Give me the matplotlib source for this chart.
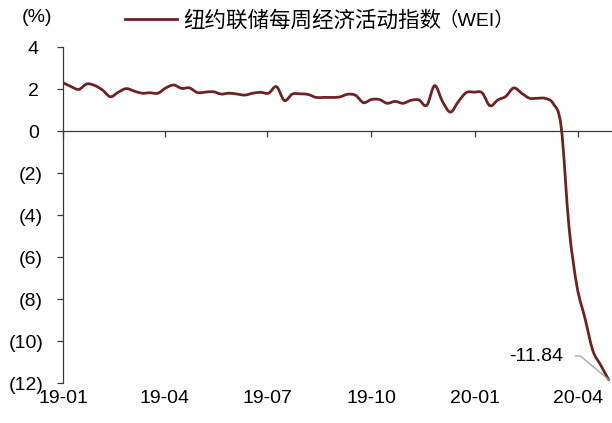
import numpy as np
import pandas as pd
import matplotlib
matplotlib.use("Agg")
import matplotlib.pyplot as plt
import matplotlib.dates as mdates
from matplotlib.path import Path
from matplotlib.patches import PathPatch
from matplotlib.lines import Line2D
from matplotlib.ticker import FixedLocator, FuncFormatter

plt.rcParams['font.family'] = ['Liberation Sans', 'Noto Sans CJK SC', 'DejaVu Sans']
plt.rcParams['font.size'] = 14

# Weekly Economic Index, weekly observations (week ending Saturday)
dates = pd.date_range('2019-01-05', periods=70, freq='7D')
wei = [
    2.30, 2.12, 1.98, 2.24, 2.17, 1.95, 1.63, 1.85, 2.02, 1.90,
    1.80, 1.82, 1.80, 2.05, 2.19, 2.03, 2.05, 1.83, 1.85, 1.87,
    1.76, 1.80, 1.76, 1.71, 1.80, 1.84, 1.80, 2.11, 1.45, 1.76,
    1.77, 1.74, 1.60, 1.60, 1.60, 1.62, 1.75, 1.70, 1.35, 1.50,
    1.50, 1.32, 1.41, 1.32, 1.46, 1.48, 1.22, 2.16, 1.40, 0.90,
    1.40, 1.83, 1.85, 1.82, 1.20, 1.48, 1.65, 2.05, 1.80, 1.56,
    1.56, 1.55, 1.30, 0.20, -4.60, -7.40, -8.90, -10.45, -11.15, -11.84,
]
series_name = '纽约联储每周经济活动指数'
series_code = '（WEI）'
last_label = '-11.84'

xtick_dates = pd.to_datetime(['2019-01-05', '2019-04-05', '2019-07-05',
                              '2019-10-05', '2020-01-05', '2020-04-05'])
xtick_labels = ['19-01', '19-04', '19-07', '19-10', '20-01', '20-04']
yticks = [4, 2, 0, -2, -4, -6, -8, -10, -12]

line_color = '#6e2224'
axis_color = '#3a3a3a'

fig = plt.figure(figsize=(6.12, 4.23), dpi=100)
ax = fig.add_axes([63 / 612, 40 / 423, 549 / 612, 336 / 423])

x = mdates.date2num(dates)
y = np.asarray(wei, dtype=float)

# smoothed line through the weekly observations (Catmull-Rom style Bezier)
verts = [(x[0], y[0])]
codes = [Path.MOVETO]
n = len(x)
for i in range(n - 1):
    p0 = np.array([x[max(i - 1, 0)], y[max(i - 1, 0)]])
    p1 = np.array([x[i], y[i]])
    p2 = np.array([x[i + 1], y[i + 1]])
    p3 = np.array([x[min(i + 2, n - 1)], y[min(i + 2, n - 1)]])
    c1 = p1 + (p2 - p0) / 6.0
    c2 = p2 - (p3 - p1) / 6.0
    verts += [tuple(c1), tuple(c2), tuple(p2)]
    codes += [Path.CURVE4] * 3
ax.add_patch(PathPatch(Path(verts, codes), fill=False, edgecolor=line_color,
                       lw=2.0, capstyle='round', joinstyle='round', zorder=3))

ax.set_xlim(mdates.date2num(pd.Timestamp('2019-01-05')),
            mdates.date2num(pd.Timestamp('2020-05-05')))
ax.set_ylim(-12, 4)

for side in ('top', 'right'):
    ax.spines[side].set_visible(False)
ax.spines['bottom'].set_position(('data', 0))
for side in ('left', 'bottom'):
    ax.spines[side].set_color(axis_color)
    ax.spines[side].set_linewidth(0.9)

xt = mdates.date2num(xtick_dates)
ax.xaxis.set_major_locator(FixedLocator(xt))
ax.tick_params(axis='x', direction='out', length=4.3, width=0.9,
               color=axis_color, labelbottom=False)

ax.yaxis.set_major_locator(FixedLocator(yticks))
ax.yaxis.set_major_formatter(FuncFormatter(
    lambda v, p: f'({abs(int(v))})' if v < 0 else f'{int(v)}'))
ax.tick_params(axis='y', direction='out', length=4.3, width=0.9,
               color=axis_color, labelcolor='black', pad=10)
for tk, v in zip(ax.yaxis.get_major_ticks(), yticks):
    if v >= 0:
        tk.set_pad(13)

# date labels along the bottom edge
sec = ax.secondary_xaxis('bottom')
sec.xaxis.set_major_locator(FixedLocator(xt))
sec.set_xticklabels(xtick_labels)
sec.spines['bottom'].set_visible(False)
sec.tick_params(axis='x', length=0, pad=5, labelcolor='black')

# unit label
fig.text(22 / 612, 1 - 17 / 423, '(%)', ha='left', va='center', fontsize=14)

# legend: series name in the larger CJK size, code appended after it
handle = Line2D([], [], color=line_color, lw=2.0)
leg = fig.legend([handle], [series_name], loc='center left',
                 bbox_to_anchor=(125 / 612, 1 - 21 / 423), frameon=False,
                 borderpad=0, borderaxespad=0, handlelength=2.4,
                 handletextpad=0.3, prop={'size': 15.5})
fig.text(438 / 612, 1 - 21 / 423, series_code, ha='left', va='center',
         fontsize=14)

# callout on the latest reading
ax.annotate(last_label, xy=(x[-1], y[-1]), xytext=(-33, 17),
            textcoords='offset points', ha='right', va='center', fontsize=14,
            arrowprops=dict(arrowstyle='-', color='#a6a6a6', lw=1.0,
                            shrinkA=7, shrinkB=0, relpos=(1, 0.5),
                            connectionstyle='angle,angleA=0,angleB=140,rad=0'),
            zorder=4)

fig.savefig('out.png', dpi=100)
